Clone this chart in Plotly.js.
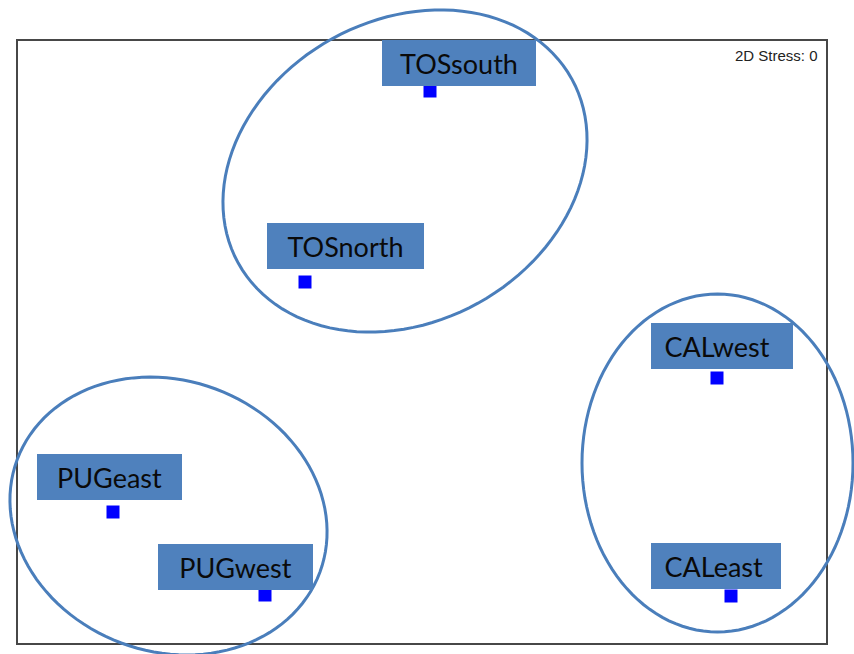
<!DOCTYPE html>
<html>
<head>
<meta charset="utf-8">
<script src="https://cdn.plot.ly/plotly-3.0.1.min.js"></script>
<style>
  html, body { margin: 0; padding: 0; background: #ffffff; }
  #chart { width: 854px; height: 654px; }
</style>
</head>
<body>
<div id="chart"></div>
<script>
// NMDS ordination of sampling sites (2D Stress: 0)
var sites = ['TOSsouth', 'TOSnorth', 'CALwest', 'CALeast', 'PUGeast', 'PUGwest'];
var mds1  = [0.032, -0.468, 1.180, 1.236, -1.236, -0.628];
var mds2  = [1.004, 0.240, -0.144, -1.016, -0.680, -1.012];
var stressText = '2D Stress: 0';

// Region groupings drawn as enclosing ellipses
var groupNames = ['TOS', 'CAL', 'PUG'];
var groupCx    = [-0.068, 1.182, -1.014];
var groupCy    = [0.684, -0.484, -0.696];
var groupA     = [0.762, 0.542, 0.646];
var groupB     = [0.604, 0.676, 0.542];
var groupRot   = [28.9, 0, -20.4];

// Label box placement (pixel offsets from each point, box widths, text alignment)
var labelDx    = [29, 40, 5, -15, -4, -30];
var labelDy    = [28, 36, 32, 30, 35, 28];
var labelW     = [154, 157, 142, 130, 145, 155];
var labelAlign = ['center', 'center', 'left', 'left', 'center', 'center'];

function ellipsePath(cx, cy, a, b, rotDeg) {
  var th = rotDeg * Math.PI / 180, n = 120, d = '';
  for (var i = 0; i <= n; i++) {
    var t = 2 * Math.PI * i / n;
    var ex = a * Math.cos(t), ey = b * Math.sin(t);
    var x = cx + ex * Math.cos(th) - ey * Math.sin(th);
    var y = cy + ex * Math.sin(th) + ey * Math.cos(th);
    d += (i === 0 ? 'M' : 'L') + x.toFixed(4) + ',' + y.toFixed(4);
  }
  return d + 'Z';
}

var shapes = [{
  type: 'rect', xref: 'x', yref: 'y',
  x0: -1.62, x1: 1.62, y0: -1.208, y1: 1.208,
  line: { color: '#474747', width: 2 }, fillcolor: 'rgba(0,0,0,0)'
}];
groupNames.forEach(function (g, i) {
  shapes.push({
    type: 'path', xref: 'x', yref: 'y',
    path: ellipsePath(groupCx[i], groupCy[i], groupA[i], groupB[i], groupRot[i]),
    line: { color: '#4a7ebb', width: 3 }, fillcolor: 'rgba(0,0,0,0)'
  });
});

var annotations = sites.map(function (s, i) {
  var left = labelAlign[i] === 'left';
  return {
    x: mds1[i], y: mds2[i], xref: 'x', yref: 'y',
    // left-aligned boxes keep an inset before the text
    text: (left ? '&#8194;' : '') + s, showarrow: false,
    xanchor: 'center', yanchor: 'middle',
    xshift: labelDx[i], yshift: labelDy[i],
    width: labelW[i], height: 46, align: labelAlign[i],
    bgcolor: '#4f81bd', borderpad: 0, borderwidth: 0,
    font: { family: 'Lato, "Open Sans", sans-serif', size: 27, color: '#0a0a0a' }
  };
});
annotations.push({
  xref: 'paper', yref: 'paper', x: 820 / 854, y: 1 - 55 / 654,
  xanchor: 'right', yanchor: 'middle', showarrow: false,
  text: stressText,
  font: { family: '"Liberation Sans", Arial, sans-serif', size: 15, color: '#222222' }
});

var trace = {
  type: 'scatter', mode: 'markers',
  x: mds1, y: mds2, text: sites, hoverinfo: 'text',
  marker: { symbol: 'square', size: 13, color: '#0000ff', line: { width: 0 } }
};

var layout = {
  width: 854, height: 654, autosize: false,
  margin: { l: 0, r: 0, t: 0, b: 0, pad: 0 },
  paper_bgcolor: '#ffffff', plot_bgcolor: '#ffffff',
  showlegend: false,
  xaxis: { range: [-1.688, 1.728], visible: false, fixedrange: true },
  yaxis: { range: [-1.248, 1.368], visible: false, fixedrange: true },
  shapes: shapes,
  annotations: annotations
};

Plotly.newPlot('chart', [trace], layout, { displayModeBar: false, staticPlot: true });
</script>
</body>
</html>
